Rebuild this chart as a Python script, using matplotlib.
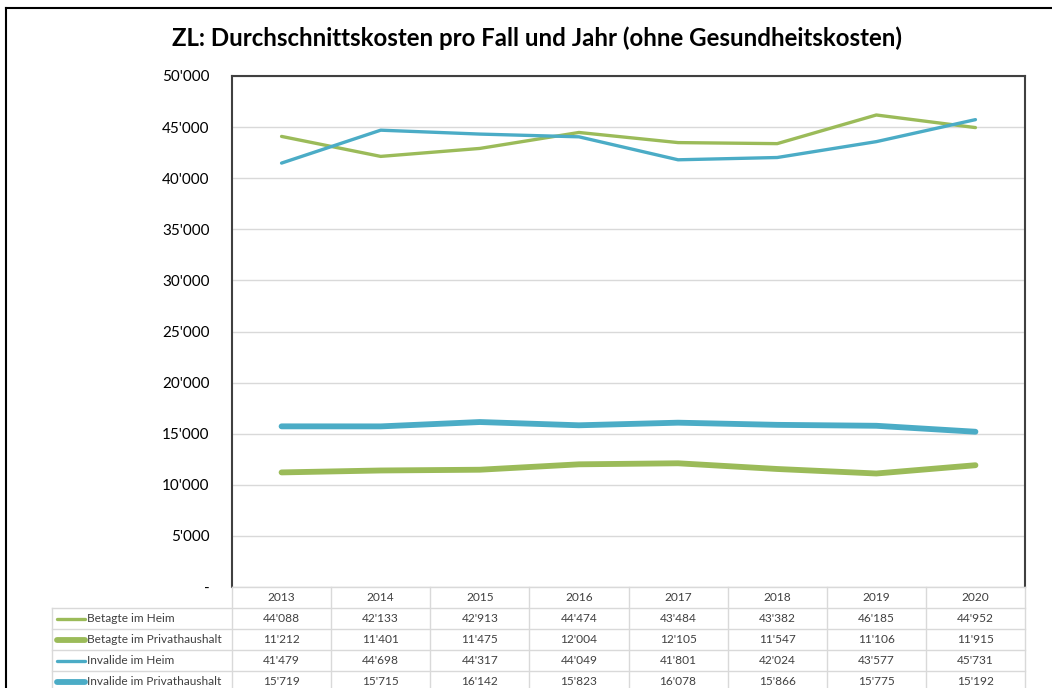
import matplotlib
matplotlib.use("Agg")
import matplotlib.pyplot as plt
from matplotlib.lines import Line2D

plt.rcParams['font.family'] = ['Lato', 'DejaVu Sans']

years = ["2013", "2014", "2015", "2016", "2017", "2018", "2019", "2020"]
series_names = ["Betagte im Heim", "Betagte im Privathaushalt",
                "Invalide im Heim", "Invalide im Privathaushalt"]
betagte_heim = [44088, 42133, 42913, 44474, 43484, 43382, 46185, 44952]
betagte_privat = [11212, 11401, 11475, 12004, 12105, 11547, 11106, 11915]
invalide_heim = [41479, 44698, 44317, 44049, 41801, 42024, 43577, 45731]
invalide_privat = [15719, 15715, 16142, 15823, 16078, 15866, 15775, 15192]
series_values = [betagte_heim, betagte_privat, invalide_heim, invalide_privat]
colors = ["#9BBB59", "#9BBB59", "#4BACC6", "#4BACC6"]
widths = [2.4, 4.2, 2.4, 4.2]
title = "ZL: Durchschnittskosten pro Fall und Jahr (ohne Gesundheitskosten)"

W, H = 1052, 688
fig = plt.figure(figsize=(W / 100, H / 100), dpi=100)

def fy(ypix):
    return 1 - ypix / H

def fx(xpix):
    return xpix / W

# outer chart border (top and left visible)
fig.add_artist(Line2D([fx(6), 1.01], [fy(8), fy(8)], color="#000000", linewidth=1.5,
                      transform=fig.transFigure))
fig.add_artist(Line2D([fx(6), fx(6)], [fy(8), -0.01], color="#000000", linewidth=1.5,
                      transform=fig.transFigure))

L, R, T, B = 232, 1025, 76, 587
ax = fig.add_axes([L / W, 1 - B / H, (R - L) / W, (B - T) / H])

x = list(range(len(years)))
for vals, c, lw in zip(series_values, colors, widths):
    ax.plot(x, vals, color=c, linewidth=lw, solid_capstyle="round", solid_joinstyle="round", zorder=3)

ax.set_xlim(-0.5, len(years) - 0.5)
ax.set_ylim(0, 50000)
yt = list(range(0, 50001, 5000))
ax.set_yticks(yt)
ax.set_yticklabels(["-" if v == 0 else f"{v:,}".replace(",", "'") for v in yt],
                   fontsize=11, color="#000000")
ax.tick_params(axis="y", length=0, pad=16)
ax.set_xticks([])
ax.grid(axis="y", color="#D9D9D9", linewidth=1)
ax.set_axisbelow(True)
for s in ["top", "left", "right"]:
    ax.spines[s].set_color("#404040")
    ax.spines[s].set_linewidth(1.5)
ax.spines["bottom"].set_color("#D9D9D9")
ax.spines["bottom"].set_linewidth(1)

fig.text(fx(537), fy(38), title, ha="center", va="center", fontsize=17.3, fontweight="bold")

# data table below the axes
row_h = 21
col_w = (R - L) / len(years)
tbl_left = 52
gcol = "#D9D9D9"
tcol = "#404040"
fs = 8.6

for i, yr in enumerate(years):
    fig.text(fx(L + (i + 0.5) * col_w), fy(B + row_h / 2), yr, ha="center", va="center",
             fontsize=fs, color=tcol)
n_rows = len(series_names)
for r in range(1, n_rows + 2):
    yp = B + r * row_h
    fig.add_artist(Line2D([fx(tbl_left), fx(R)], [fy(yp), fy(yp)], color=gcol, linewidth=1,
                          transform=fig.transFigure))
for i in range(len(years) + 1):
    xp = L + i * col_w
    fig.add_artist(Line2D([fx(xp), fx(xp)], [fy(B), fy(B + (n_rows + 1) * row_h + 5)], color=gcol,
                          linewidth=1, transform=fig.transFigure))
fig.add_artist(Line2D([fx(tbl_left), fx(tbl_left)], [fy(B + row_h), fy(B + (n_rows + 1) * row_h + 5)],
                      color=gcol, linewidth=1, transform=fig.transFigure))

for r, (name, vals, c, lw) in enumerate(zip(series_names, series_values, colors, widths)):
    yc = B + (r + 1.5) * row_h
    fig.add_artist(Line2D([fx(57), fx(85)], [fy(yc), fy(yc)], color=c, linewidth=lw,
                          solid_capstyle="round", transform=fig.transFigure))
    fig.text(fx(87), fy(yc), name, ha="left", va="center", fontsize=fs, color=tcol)
    for i, v in enumerate(vals):
        fig.text(fx(L + (i + 0.5) * col_w), fy(yc), f"{v:,}".replace(",", "'"), ha="center",
                 va="center", fontsize=fs, color=tcol)

fig.savefig("out.png", dpi=100)
